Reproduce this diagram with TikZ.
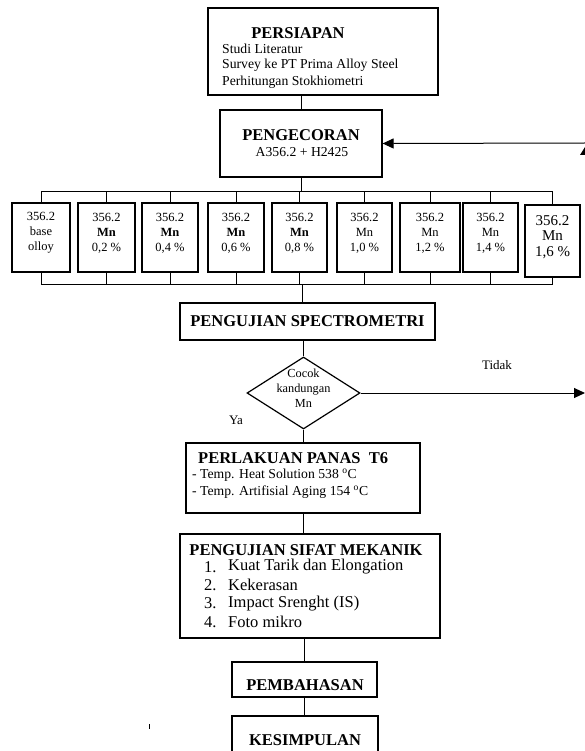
\documentclass[tikz,border=0pt]{standalone}
\usepackage{fontspec}
\setmainfont{Liberation Serif}
\usetikzlibrary{arrows.meta,shapes.geometric}
\begin{document}
\begin{tikzpicture}[x=1pt,y=-1pt,
  box/.style={draw, line width=1.2pt, inner sep=0pt},
  conn/.style={line width=1pt},
  arr/.style={line width=1pt, -{Triangle[length=11pt,width=10pt]}},
  ttl/.style={font=\bfseries\fontsize{16.5}{18}\selectfont, inner sep=0pt},
  sub/.style={font=\fontsize{13.7}{16.5}\selectfont, inner sep=0pt},
  itm/.style={font=\fontsize{16.5}{18.3}\selectfont, inner sep=0pt},
  cell/.style={font=\fontsize{12.5}{15}\selectfont, align=center, inner sep=0pt},
  bigcell/.style={font=\fontsize{15}{15.5}\selectfont, align=center, inner sep=0pt},
  lbl/.style={font=\fontsize{13}{15}\selectfont, inner sep=0pt}
]
\useasboundingbox (0,0) rectangle (585,751);

% PERSIAPAN
\node[box, minimum width=230pt, minimum height=87pt] (persiapan) at (323,51.5) {};
\node[ttl] (tpers) at (298,33) {PERSIAPAN};
\node[sub, anchor=west] (p1) at (222,49) {Studi Literatur};
\node[sub, anchor=west] (p2) at (222,65.5) {Survey ke PT Prima Alloy Steel};
\node[sub, anchor=west] (p3) at (222,82) {Perhitungan Stokhiometri};

% PENGECORAN
\node[box, minimum width=162pt, minimum height=67pt] (pengecoran) at (301,143.5) {};
\node[ttl] (tpeng) at (301,135) {PENGECORAN};
\node[sub] (speng) at (302,152) {A356.2 + H2425};

% sample boxes
\node[box, minimum width=58pt, minimum height=69pt] (b1) at (41,237.5) {};
\node[box, minimum width=57pt, minimum height=69pt] (b2) at (106.5,237.5) {};
\node[box, minimum width=56pt, minimum height=69pt] (b3) at (170,237.5) {};
\node[box, minimum width=56pt, minimum height=69pt] (b4) at (236,237.5) {};
\node[box, minimum width=55pt, minimum height=69pt] (b5) at (299.5,237.5) {};
\node[box, minimum width=55pt, minimum height=69pt] (b6) at (364.5,237.5) {};
\node[box, minimum width=60pt, minimum height=69pt] (b7) at (430,237.5) {};
\node[box, minimum width=55pt, minimum height=69pt] (b8) at (490.5,237.5) {};
\node[box, minimum width=55pt, minimum height=72pt] (b9) at (552.5,241) {};

\node[cell] (t1) at (41,233) {356.2\\base\\olloy};
\node[cell] (t2) at (106.5,233) {356.2\\\textbf{Mn}\\0,2 \%};
\node[cell] (t3) at (170,233) {356.2\\\textbf{Mn}\\0,4 \%};
\node[cell] (t4) at (236,233) {356.2\\\textbf{Mn}\\0,6 \%};
\node[cell] (t5) at (299.5,233) {356.2\\\textbf{Mn}\\0,8 \%};
\node[cell] (t6) at (364.5,233) {356.2\\Mn\\1,0 \%};
\node[cell] (t7) at (430,233) {356.2\\Mn\\1,2 \%};
\node[cell] (t8) at (490.5,233) {356.2\\Mn\\1,4 \%};
\node[bigcell] (t9) at (552.5,237) {356.2\\Mn\\1,6 \%};

% buses
\coordinate (bustop) at (301,192);
\coordinate (busbot) at (302,284);
\draw[conn] (persiapan.south -| pengecoran.north) -- (pengecoran.north);
\draw[conn] (pengecoran.south) -- (bustop);
\draw[conn] (b1.north |- bustop) -- (b9.north |- bustop);
\foreach \b in {b1,b2,b3,b4,b5,b6,b7,b8,b9}{
  \draw[conn] (\b.north |- bustop) -- (\b.north);
  \draw[conn] (\b.south) -- (\b.south |- busbot);
}
\draw[conn] (b1.south |- busbot) -- (b9.south |- busbot);

% SPECTROMETRI
\node[box, minimum width=255pt, minimum height=37pt] (spectro) at (307.5,321.5) {};
\node[ttl] (tspec) at (spectro.center) {PENGUJIAN SPECTROMETRI};
\draw[conn] (busbot) -- (busbot |- spectro.north);

% decision
\node[box, shape=diamond, minimum width=113pt, minimum height=72pt] (dia) at (303.5,393) {};
\node[font=\fontsize{12.3}{15}\selectfont, align=center, inner sep=0pt] (tdia) at (303.5,388) {Cocok\\kandungan\\Mn};
\draw[conn] (spectro.south -| dia.north) -- (dia.north);
\node[lbl] (tidak) at (497,365) {Tidak};
\node[lbl] (ya) at (236,420) {Ya};
\coordinate (tidakend) at (585,393);
\draw[arr] (dia.east) -- (tidakend);
\coordinate (backstart) at (585,143);
\draw[arr] (backstart) -- (pengecoran.east);
\fill (580,155) -- (585,147) -- (585,155) -- cycle;

% PERLAKUAN PANAS
\node[box, minimum width=234pt, minimum height=70pt] (perlakuan) at (303,478) {};
\node[ttl, anchor=west] (tperl) at (198,458) {PERLAKUAN PANAS\ \ T6};
\node[sub, anchor=west] (pl1) at (192,475) {- Temp. Heat Solution 538 $^{\mathrm{o}}$C};
\node[sub, anchor=west] (pl2) at (192,492) {- Temp. Artifisial Aging 154 $^{\mathrm{o}}$C};
\draw[conn] (dia.south) -- (dia.south |- perlakuan.north);

% MEKANIK
\node[box, minimum width=260pt, minimum height=104pt] (mekanik) at (310,586) {};
\node[ttl] (tmek) at (306,550) {PENGUJIAN SIFAT MEKANIK};
\node[itm, anchor=west] (n1) at (204,567) {1.};
\node[itm, anchor=west] (n2) at (204,585.3) {2.};
\node[itm, anchor=west] (n3) at (204,603.6) {3.};
\node[itm, anchor=west] (n4) at (204,621.9) {4.};
\node[itm, anchor=west] (m1) at (228,567) {Kuat Tarik dan Elongation};
\node[itm, anchor=west] (m2) at (228,585.3) {Kekerasan};
\node[itm, anchor=west] (m3) at (228,603.6) {Impact Srenght (IS)};
\node[itm, anchor=west] (m4) at (228,621.9) {Foto mikro};
\draw[conn] (perlakuan.south) -- (perlakuan.south |- mekanik.north);

% PEMBAHASAN / KESIMPULAN
\node[box, minimum width=145pt, minimum height=35pt] (pembahasan) at (304.5,679.5) {};
\node[ttl] (tpemb) at (305,685) {PEMBAHASAN};
\draw[conn] (pembahasan.north) -- (pembahasan.north |- mekanik.south);
\node[box, minimum width=146pt, minimum height=44pt] (kesimpulan) at (305,738) {};
\node[ttl] (tkes) at (305,740) {KESIMPULAN};
\draw[conn] (pembahasan.south) -- (pembahasan.south |- kesimpulan.north);

\draw[line width=1pt] (149,724) -- (149,729);
\end{tikzpicture}
\end{document}
